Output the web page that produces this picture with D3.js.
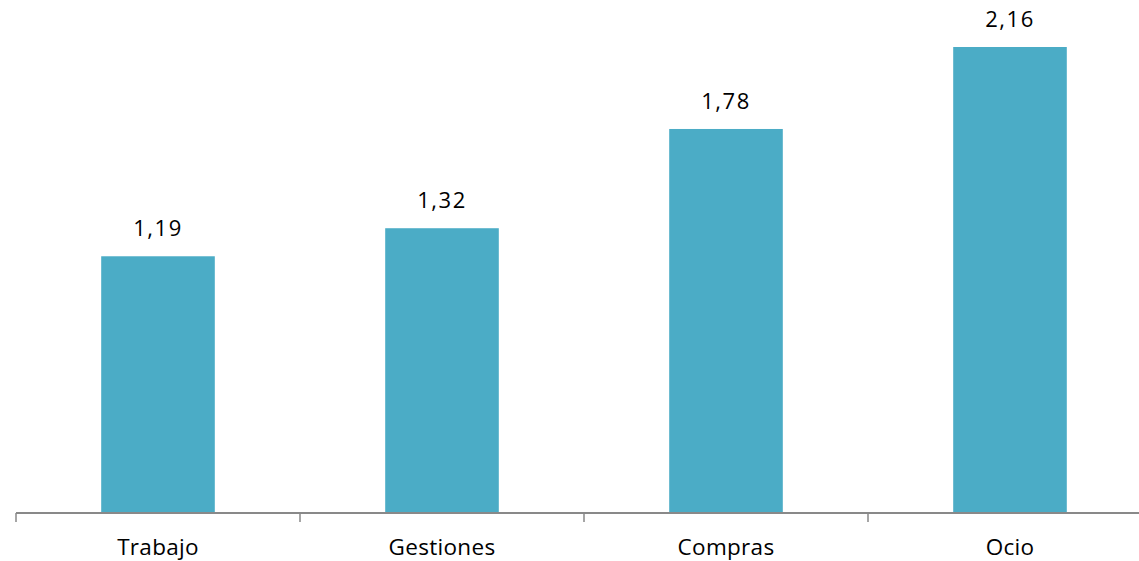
<!DOCTYPE html>
<html>
<head>
<meta charset="utf-8">
<script src="https://cdn.jsdelivr.net/npm/d3@7"></script>
<style>
  body { margin: 0; background: #fff; }
  text { font-family: "Open Sans", "Noto Sans", sans-serif; fill: #000; }
</style>
</head>
<body>
<div id="chart"></div>
<script>
  var categories = ["Trabajo", "Gestiones", "Compras", "Ocio"];
  var values = [1.19, 1.32, 1.78, 2.16];

  var width = 1139, height = 561;
  var baseY = 513;

  var svg = d3.select("#chart").append("svg")
    .attr("width", width)
    .attr("height", height);

  var x = d3.scaleBand()
    .domain(categories)
    .range([16, 1152])
    .paddingInner(0.6)
    .paddingOuter(0.3);

  var y = d3.scaleLinear()
    .domain([0, 2.16])
    .range([baseY, 47]);

  var fmt = function (d) { return d3.format(".2f")(d).replace(".", ","); };

  // bars
  svg.selectAll("rect.bar")
    .data(values)
    .enter().append("rect")
      .attr("class", "bar")
      .attr("x", function (d, i) { return x(categories[i]); })
      .attr("y", function (d) { return y(d); })
      .attr("width", x.bandwidth())
      .attr("height", function (d) { return y(0) - y(d); })
      .attr("fill", "#4BACC6");

  // value labels
  svg.selectAll("text.value")
    .data(values)
    .enter().append("text")
      .attr("class", "value")
      .attr("x", function (d, i) { return x(categories[i]) + x.bandwidth() / 2; })
      .attr("y", function (d) { return y(d) - 20; })
      .attr("text-anchor", "middle")
      .style("font-size", "22px")
      .style("letter-spacing", "1.5px")
      .text(fmt);

  // x axis: line and ticks between categories
  var step = x.step();
  var edges = d3.range(categories.length + 1).map(function (i) { return 16 + i * step; });
  var axis = svg.append("g").attr("class", "x axis");
  axis.append("line")
    .attr("x1", 16).attr("x2", width)
    .attr("y1", baseY).attr("y2", baseY)
    .attr("stroke", "#898989").attr("stroke-width", 2);
  axis.selectAll("line.tick")
    .data(edges)
    .enter().append("line")
      .attr("class", "tick")
      .attr("x1", function (d) { return d; }).attr("x2", function (d) { return d; })
      .attr("y1", baseY).attr("y2", baseY + 9)
      .attr("stroke", "#898989").attr("stroke-width", 1.5);
  axis.selectAll("text")
    .data(categories)
    .enter().append("text")
      .attr("x", function (d) { return x(d) + x.bandwidth() / 2; })
      .attr("y", 555)
      .attr("text-anchor", "middle")
      .style("font-size", "22.5px")
      .style("letter-spacing", "0.3px")
      .text(function (d) { return d; });
</script>
</body>
</html>
